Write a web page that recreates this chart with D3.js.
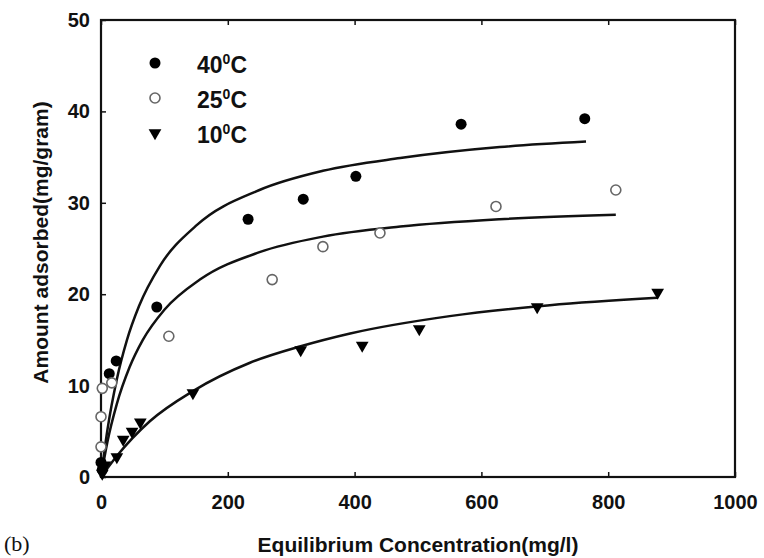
<html>
<head>
    <title>Adsorption isotherms</title>
    <style type="text/css">
        body{
            margin: 0;
            background-color: #fff;
        }
        .tick text{
            font-family: "Liberation Sans", Arial, sans-serif;
            font-weight: bold;
            font-size: 20px;
            fill: #111;
        }
        .tick line{
            stroke: #111;
            stroke-width: 1.5px;
        }
        .axisTitle{
            font-family: "Liberation Sans", Arial, sans-serif;
            font-weight: bold;
            font-size: 21px;
            fill: #111;
        }
        .legendText{
            font-family: "Liberation Sans", Arial, sans-serif;
            font-weight: bold;
            font-size: 23px;
            fill: #111;
        }
        .fit{
            fill: none;
            stroke: #111;
            stroke-width: 2.5px;
        }
    </style>
    <script type="text/javascript" src="https://cdn.jsdelivr.net/npm/d3@7"></script>
</head>
<body>
    <div id="chart"></div>

    <script type="text/javascript">
        // measured points (Ce in mg/l, q in mg/gram)
        var conc40 = [0, 2, 13, 24, 88, 232, 319, 402, 568, 763];
        var q40    = [1.6, 0.8, 11.3, 12.7, 18.6, 28.2, 30.4, 32.9, 38.6, 39.2];
        var conc25 = [0, 0, 2, 17, 107, 270, 350, 440, 623, 812];
        var q25    = [3.3, 6.6, 9.7, 10.3, 15.4, 21.6, 25.2, 26.7, 29.6, 31.4];
        var conc10 = [2, 6, 25, 35, 49, 62, 145, 315, 412, 502, 688, 878];
        var q10    = [0.4, 1.3, 2.2, 4.1, 5.0, 6.0, 9.2, 13.9, 14.4, 16.2, 18.6, 20.2];

        // fitted curves
        var fitConc40 = [0, 10, 25, 41, 60, 93, 150, 250, 350, 472, 629, 765];
        var fitQ40    = [0, 5.1, 10.7, 15.0, 18.7, 23.1, 27.5, 31.4, 33.5, 34.9, 36.1, 36.7];
        var fitConc25 = [0, 10, 25, 45, 66, 100, 156, 250, 350, 472, 629, 812];
        var fitQ25    = [0, 3.8, 8.0, 12.0, 15.0, 18.3, 21.6, 24.6, 26.3, 27.4, 28.2, 28.7];
        var fitConc10 = [0, 25, 77, 145, 235, 315, 393, 550, 708, 878];
        var fitQ10    = [0, 2.3, 6.1, 9.4, 12.5, 14.3, 15.7, 17.6, 18.8, 19.6];

        var xTicks = [0, 200, 400, 600, 800, 1000];
        var yTicks = [0, 10, 20, 30, 40, 50];
        var legendLabels = ['40', '25', '10'];

        var width = 764, height = 558;
        var margin = {top: 20, right: 29, bottom: 81, left: 101};

        var svg = d3.select('#chart')
            .append('svg')
            .attr('width', width)
            .attr('height', height);

        var xScale = d3.scaleLinear()
            .domain([0, 1000])
            .range([margin.left, width - margin.right]);

        var yScale = d3.scaleLinear()
            .domain([0, 50])
            .range([height - margin.bottom, margin.top]);

        function zip(xs, ys){
            return xs.map(function(d, i){ return {c: d, q: ys[i]}; });
        }

        // axes, ticks pointing inward
        var xAxisG = svg.append('g')
            .attr('transform', 'translate(0,' + yScale(0) + ')')
            .call(d3.axisBottom(xScale).tickValues(xTicks).tickFormat(d3.format('d'))
                .tickSizeInner(-5).tickSizeOuter(0).tickPadding(18));
        var yAxisG = svg.append('g')
            .attr('transform', 'translate(' + xScale(0) + ',0)')
            .call(d3.axisLeft(yScale).tickValues(yTicks).tickFormat(d3.format('d'))
                .tickSizeInner(-5).tickSizeOuter(0).tickPadding(11));
        var topAxisG = svg.append('g')
            .attr('transform', 'translate(0,' + yScale(50) + ')')
            .call(d3.axisTop(xScale).tickValues(xTicks).tickSizeInner(-5).tickSizeOuter(0).tickFormat(''));

        svg.selectAll('.domain').remove();

        svg.append('rect')
            .attr('x', xScale(0))
            .attr('y', yScale(50))
            .attr('width', xScale(1000) - xScale(0))
            .attr('height', yScale(0) - yScale(50))
            .attr('fill', 'none')
            .attr('stroke', '#111')
            .attr('stroke-width', 2.2);

        // fitted lines
        var line = d3.line()
            .x(function(d){ return xScale(d.c); })
            .y(function(d){ return yScale(d.q); })
            .curve(d3.curveMonotoneX);

        [[fitConc40, fitQ40], [fitConc25, fitQ25], [fitConc10, fitQ10]].forEach(function(f){
            svg.append('path')
                .datum(zip(f[0], f[1]))
                .attr('class', 'fit')
                .attr('d', line);
        });

        // markers
        var tri = d3.symbol().type(d3.symbolTriangle).size(70);

        svg.selectAll('.p40')
            .data(zip(conc40, q40))
            .enter()
            .append('circle')
            .attr('class', 'p40')
            .attr('cx', function(d){ return xScale(d.c); })
            .attr('cy', function(d){ return yScale(d.q); })
            .attr('r', 5.5)
            .attr('fill', '#000');

        svg.selectAll('.p25')
            .data(zip(conc25, q25))
            .enter()
            .append('circle')
            .attr('class', 'p25')
            .attr('cx', function(d){ return xScale(d.c); })
            .attr('cy', function(d){ return yScale(d.q); })
            .attr('r', 5)
            .attr('fill', '#fff')
            .attr('stroke', '#666')
            .attr('stroke-width', 1.6);

        svg.selectAll('.p10')
            .data(zip(conc10, q10))
            .enter()
            .append('path')
            .attr('class', 'p10')
            .attr('d', tri)
            .attr('transform', function(d){
                return 'translate(' + xScale(d.c) + ',' + yScale(d.q) + ') rotate(180)';
            })
            .attr('fill', '#000');

        // legend
        var legend = svg.append('g').attr('transform', 'translate(155,63)');
        legend.append('circle').attr('cx', 0).attr('cy', 0).attr('r', 5.5).attr('fill', '#000');
        legend.append('circle').attr('cx', 0).attr('cy', 35).attr('r', 5).attr('fill', '#fff')
            .attr('stroke', '#666').attr('stroke-width', 1.6);
        legend.append('path').attr('d', tri).attr('transform', 'translate(0,70) rotate(180)').attr('fill', '#000');

        legendLabels.forEach(function(t, i){
            var txt = legend.append('text')
                .attr('class', 'legendText')
                .attr('x', 42)
                .attr('y', 10 + i * 35);
            txt.append('tspan').text(t);
            txt.append('tspan').attr('dy', -9).style('font-size', '14px').text('0');
            txt.append('tspan').attr('dy', 9).text('C');
        });

        // titles
        svg.append('text')
            .attr('class', 'axisTitle')
            .attr('text-anchor', 'middle')
            .attr('transform', 'translate(48,' + (yScale(25) - 6) + ') rotate(-90)')
            .text('Amount adsorbed(mg/gram)');

        svg.append('text')
            .attr('class', 'axisTitle')
            .attr('text-anchor', 'middle')
            .attr('x', (xScale(0) + xScale(1000)) / 2)
            .attr('y', 552)
            .text('Equilibrium Concentration(mg/l)');

        svg.append('text')
            .attr('x', 4)
            .attr('y', 551)
            .style('font-family', '"Liberation Serif", "Times New Roman", serif')
            .style('font-size', '22px')
            .style('fill', '#111')
            .text('(b)');
    </script>
</body>
</html>
